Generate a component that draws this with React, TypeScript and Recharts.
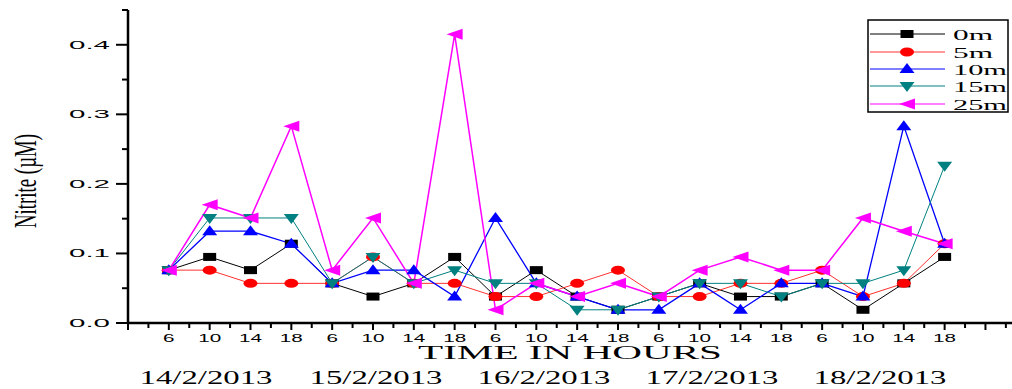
import { Customized, Line, LineChart, XAxis, YAxis } from 'recharts';

// time of day for each sample (4 per day, 5 days)
const hours = ['6', '10', '14', '18', '6', '10', '14', '18', '6', '10', '14', '18', '6', '10', '14', '18', '6', '10', '14', '18'];
const days = ['14/2/2013', '15/2/2013', '16/2/2013', '17/2/2013', '18/2/2013'];

// nitrite (µM) by depth
const depth0 = [0.076, 0.095, 0.076, 0.114, 0.057, 0.038, 0.057, 0.095, 0.038, 0.076, 0.038, 0.019, 0.038, 0.057, 0.038, 0.038, 0.057, 0.019, 0.057, 0.095];
const depth5 = [0.076, 0.076, 0.057, 0.057, 0.057, 0.095, 0.057, 0.057, 0.038, 0.038, 0.057, 0.076, 0.038, 0.038, 0.057, 0.057, 0.076, 0.038, 0.057, 0.114];
const depth10 = [0.076, 0.132, 0.132, 0.114, 0.057, 0.076, 0.076, 0.038, 0.151, 0.057, 0.038, 0.019, 0.019, 0.057, 0.019, 0.057, 0.057, 0.038, 0.283, 0.114];
const depth15 = [0.076, 0.151, 0.151, 0.151, 0.057, 0.095, 0.057, 0.076, 0.057, 0.057, 0.019, 0.019, 0.038, 0.057, 0.057, 0.038, 0.057, 0.057, 0.076, 0.226];
const depth25 = [0.076, 0.17, 0.151, 0.283, 0.076, 0.151, 0.057, 0.415, 0.019, 0.057, 0.038, 0.057, 0.038, 0.076, 0.095, 0.076, 0.076, 0.151, 0.132, 0.114];

const yTicks = [0, 0.05, 0.1, 0.15, 0.2, 0.25, 0.3, 0.35, 0.4, 0.45];

const data = hours.map((h, i) => ({
  i,
  hour: h,
  d0: depth0[i],
  d5: depth5[i],
  d10: depth10[i],
  d15: depth15[i],
  d25: depth25[i],
}));

const xTicks: number[] = [];
for (let k = -2; k <= 41; k++) xTicks.push(k / 2);

const SANS = '"Liberation Sans", Arial, sans-serif';
const SERIF = '"Liberation Serif", "Times New Roman", serif';

type Shape = 'square' | 'circle' | 'up' | 'down' | 'left';

function Marker({ cx, cy, shape, color }: { cx: number; cy: number; shape: Shape; color: string }) {
  if (cx == null || cy == null) return null;
  if (shape === 'square') return <rect x={cx - 6.5} y={cy - 4} width={13} height={8} fill={color} />;
  if (shape === 'circle') return <ellipse cx={cx} cy={cy} rx={7} ry={4.5} fill={color} />;
  let pts = '';
  if (shape === 'up') pts = `${cx},${cy - 6} ${cx + 7.5},${cy + 4} ${cx - 7.5},${cy + 4}`;
  if (shape === 'down') pts = `${cx - 7.5},${cy - 4} ${cx + 7.5},${cy - 4} ${cx},${cy + 6}`;
  if (shape === 'left') pts = `${cx - 8},${cy} ${cx + 8},${cy - 5.5} ${cx + 8},${cy + 5.5}`;
  return <polygon points={pts} fill={color} />;
}

const series: { key: string; name: string; color: string; line: string; shape: Shape; width: number }[] = [
  { key: 'd0', name: '0m', color: '#000000', line: '#000000', shape: 'square', width: 1 },
  { key: 'd5', name: '5m', color: '#ff0000', line: '#ff3030', shape: 'circle', width: 1 },
  { key: 'd10', name: '10m', color: '#0000ff', line: '#0000ff', shape: 'up', width: 1.3 },
  { key: 'd15', name: '15m', color: '#008080', line: '#008080', shape: 'down', width: 1 },
  { key: 'd25', name: '25m', color: '#ff00ff', line: '#ff00ff', shape: 'left', width: 1.5 },
];

function XTick(props: any) {
  const { x, y, payload } = props;
  const v = payload.value as number;
  const major = Number.isInteger(v);
  const label = major && v >= 0 && v < hours.length ? hours[v] : null;
  return (
    <g>
      <line x1={x} x2={x} y1={y} y2={y + (major ? 7 : 5)} stroke="#000" strokeWidth={2} />
      {label && (
        <text
          x={x}
          y={y + 19}
          fontSize={11.5}
          fontFamily={SANS}
          textAnchor="middle"
          textLength={label.length * 11.5}
          lengthAdjust="spacingAndGlyphs"
        >
          {label}
        </text>
      )}
    </g>
  );
}

function YTick(props: any) {
  const { x, y, payload } = props;
  const v = payload.value as number;
  const major = Math.abs(Math.round(v * 10) - v * 10) < 1e-6;
  return (
    <g>
      <line x1={x - (major ? 12 : 6)} x2={x} y1={y} y2={y} stroke="#000" strokeWidth={2} />
      {major && v < 0.45 && (
        <text
          x={x - 18}
          y={y + 4}
          fontSize={11.5}
          fontFamily={SANS}
          textAnchor="end"
          textLength={41}
          lengthAdjust="spacingAndGlyphs"
        >
          {v.toFixed(1)}
        </text>
      )}
    </g>
  );
}

function Extras() {
  const dayX = [206, 376, 544, 712, 880];
  const rowY = [34, 52, 69, 86, 104];
  return (
    <g>
      <text
        transform="translate(36,181) rotate(-90)"
        textAnchor="middle"
        fontSize={32}
        fontFamily={SERIF}
        textLength={94}
        lengthAdjust="spacingAndGlyphs"
      >
        Nitrite (µM)
      </text>
      <text
        x={570}
        y={359}
        textAnchor="middle"
        fontSize={19}
        fontFamily={SERIF}
        textLength={304}
        lengthAdjust="spacingAndGlyphs"
      >
        TIME IN HOURS
      </text>
      {days.map((d, k) => (
        <text
          key={d}
          x={dayX[k]}
          y={384}
          textAnchor="middle"
          fontSize={18}
          fontFamily={SERIF}
          textLength={133}
          lengthAdjust="spacingAndGlyphs"
        >
          {d}
        </text>
      ))}
      <rect x={868} y={20} width={140} height={92} fill="#fff" stroke="#000" strokeWidth={1.5} />
      {series.map((s, k) => (
        <g key={s.key}>
          <line x1={870} x2={945} y1={rowY[k]} y2={rowY[k]} stroke={s.line} strokeWidth={1} />
          <Marker cx={907} cy={rowY[k]} shape={s.shape} color={s.color} />
          <text
            x={953}
            y={rowY[k] + 6}
            fontSize={15}
            fontFamily={SERIF}
            textLength={s.name.length === 2 ? 40 : 54}
            lengthAdjust="spacingAndGlyphs"
          >
            {s.name}
          </text>
        </g>
      ))}
    </g>
  );
}

export default function App() {
  return (
    <div style={{ position: 'absolute', left: 0, top: 0, background: '#fff' }}>
      <LineChart width={1012} height={389} data={data} margin={{ top: 10, right: 0, bottom: 0, left: 0 }}>
        <XAxis
          dataKey="i"
          type="number"
          domain={[-1, 20.65]}
          ticks={xTicks}
          interval={0}
          allowDataOverflow
          height={66}
          tickLine={false}
          tickSize={0}
          tickMargin={0}
          axisLine={{ stroke: '#000', strokeWidth: 2.5 }}
          tick={<XTick />}
        />
        <YAxis
          type="number"
          domain={[0, 0.45]}
          ticks={yTicks}
          interval={0}
          width={128}
          tickLine={false}
          tickSize={0}
          tickMargin={0}
          axisLine={{ stroke: '#000', strokeWidth: 2.5 }}
          tick={<YTick />}
        />
        {series.map((s) => (
          <Line
            key={s.key}
            dataKey={s.key}
            name={s.name}
            stroke={s.line}
            strokeWidth={s.width}
            isAnimationActive={false}
            dot={(p: any) => <Marker key={`${s.key}-${p.index}`} cx={p.cx} cy={p.cy} shape={s.shape} color={s.color} />}
            activeDot={false}
          />
        ))}
        <Customized component={Extras} />
      </LineChart>
    </div>
  );
}
